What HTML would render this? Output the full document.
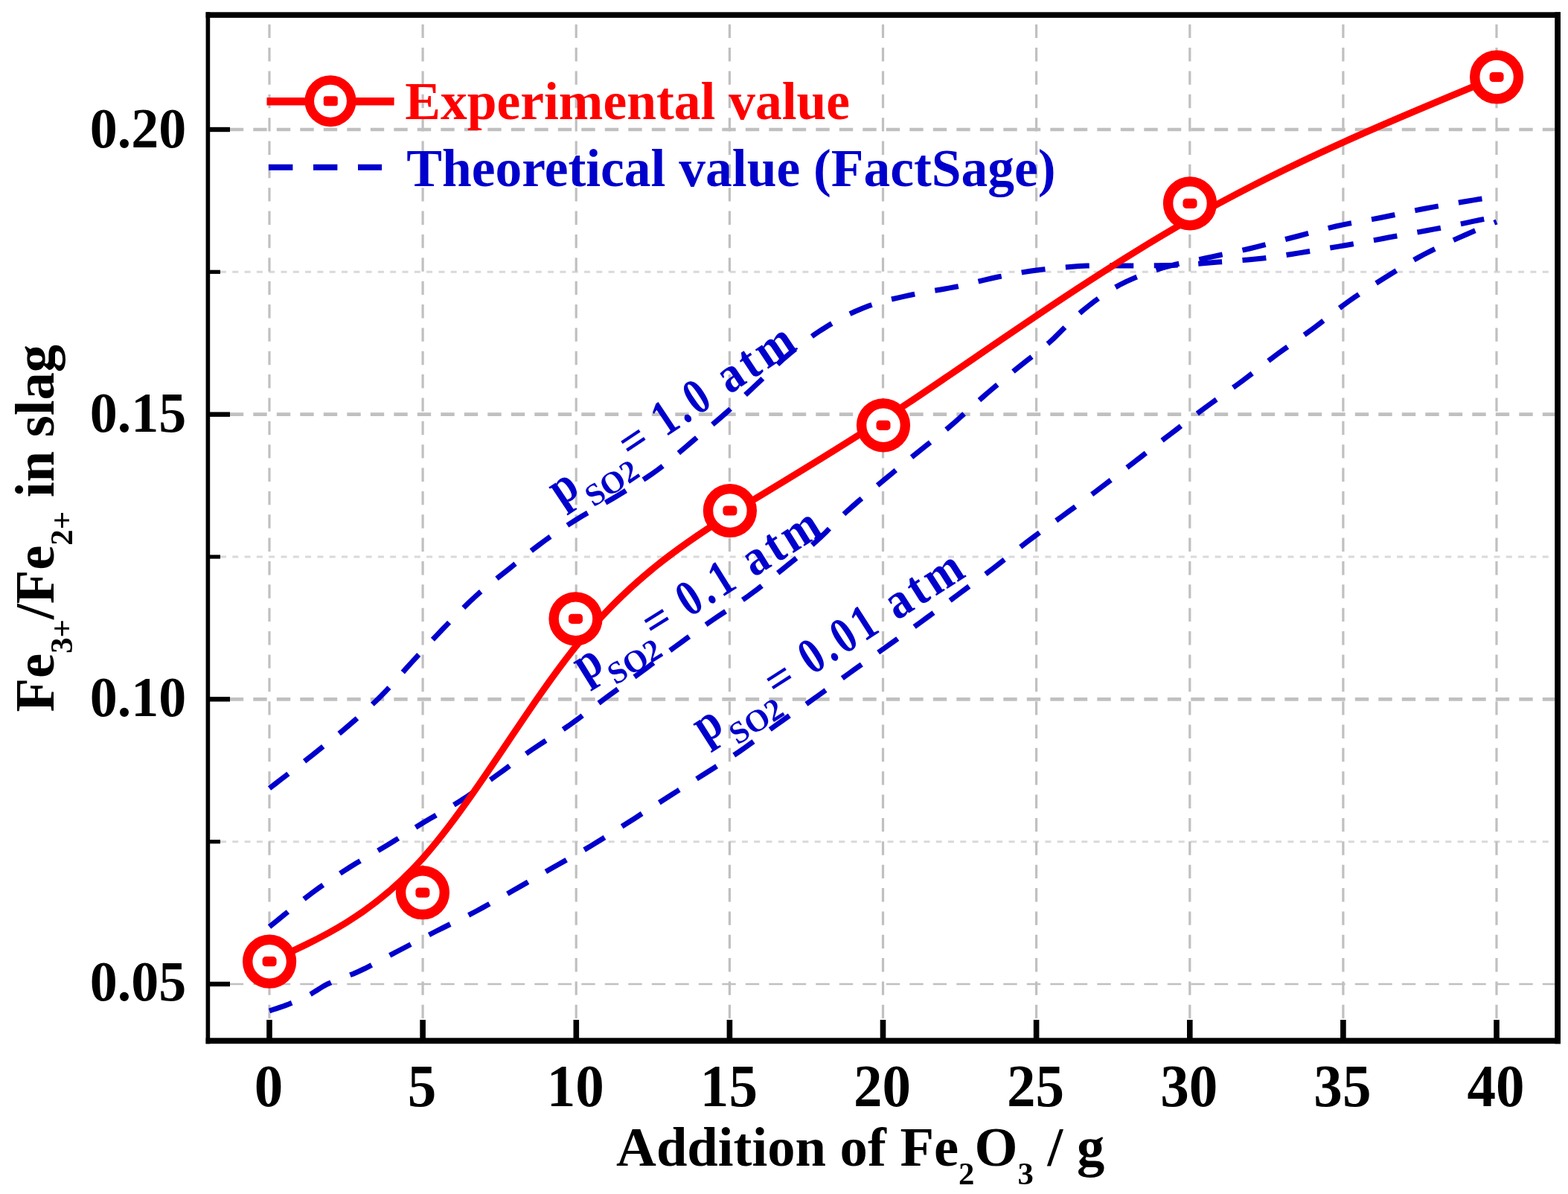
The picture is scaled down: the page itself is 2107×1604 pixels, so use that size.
<!DOCTYPE html>
<html><head><meta charset="utf-8"><title>Fe3+/Fe2+ in slag vs addition of Fe2O3</title>
<style>
html,body{margin:0;padding:0;background:#fff;overflow:hidden;}
svg{display:block;}
text{font-family:'Liberation Serif','Times New Roman',serif;font-weight:bold;}
</style></head><body>
<svg width="2107" height="1604" viewBox="0 0 2107 1604">
<rect x="0" y="0" width="2107" height="1604" fill="#fff"/>

<g id="grid" fill="none">
<line x1="296" y1="1130.7" x2="2089" y2="1130.7" stroke="#d9d9d9" stroke-width="3" stroke-dasharray="8 8.3"/>
<line x1="296" y1="748.0" x2="2089" y2="748.0" stroke="#d9d9d9" stroke-width="3" stroke-dasharray="8 8.3"/>
<line x1="296" y1="365.3" x2="2089" y2="365.3" stroke="#d9d9d9" stroke-width="3" stroke-dasharray="8 8.3"/>
<line x1="308.8" y1="1322.0" x2="2089" y2="1322.0" stroke="#c0c0c0" stroke-width="2.6" stroke-dasharray="18.4 13.1"/>
<line x1="308.8" y1="939.3" x2="2089" y2="939.3" stroke="#c0c0c0" stroke-width="4.7" stroke-dasharray="18.4 13.1"/>
<line x1="308.8" y1="556.7" x2="2089" y2="556.7" stroke="#c0c0c0" stroke-width="4.7" stroke-dasharray="18.4 13.1"/>
<line x1="308.8" y1="174.0" x2="2089" y2="174.0" stroke="#c0c0c0" stroke-width="4.7" stroke-dasharray="18.4 13.1"/>
<line x1="362.0" y1="32.7" x2="362.0" y2="1370" stroke="#c0c0c0" stroke-width="3.2" stroke-dasharray="18.4 12.96"/>
<line x1="568.1" y1="32.7" x2="568.1" y2="1370" stroke="#c0c0c0" stroke-width="3.2" stroke-dasharray="18.4 12.96"/>
<line x1="774.2" y1="32.7" x2="774.2" y2="1370" stroke="#c0c0c0" stroke-width="3.2" stroke-dasharray="18.4 12.96"/>
<line x1="980.4" y1="32.7" x2="980.4" y2="1370" stroke="#c0c0c0" stroke-width="3.2" stroke-dasharray="18.4 12.96"/>
<line x1="1186.5" y1="32.7" x2="1186.5" y2="1370" stroke="#c0c0c0" stroke-width="3.2" stroke-dasharray="18.4 12.96"/>
<line x1="1392.6" y1="32.7" x2="1392.6" y2="1370" stroke="#c0c0c0" stroke-width="3.2" stroke-dasharray="18.4 12.96"/>
<line x1="1598.8" y1="32.7" x2="1598.8" y2="1370" stroke="#c0c0c0" stroke-width="3.2" stroke-dasharray="18.4 12.96"/>
<line x1="1804.9" y1="32.7" x2="1804.9" y2="1370" stroke="#c0c0c0" stroke-width="3.2" stroke-dasharray="18.4 12.96"/>
<line x1="2011.0" y1="32.7" x2="2011.0" y2="1370" stroke="#c0c0c0" stroke-width="3.2" stroke-dasharray="18.4 12.96"/>
</g>
<g id="frame" fill="#000">
<rect x="276.6" y="16.3" width="5.6" height="1386"/>
<rect x="276.6" y="16.3" width="1820.4" height="7.6"/>
<rect x="2089.2" y="16.3" width="7.8" height="1386"/>
<rect x="276.6" y="1394.3" width="1820.4" height="7.8"/>
<rect x="282" y="1318.8" width="27" height="6.4"/>
<rect x="282" y="936.1" width="27" height="6.4"/>
<rect x="282" y="553.5" width="27" height="6.4"/>
<rect x="282" y="170.8" width="27" height="6.4"/>
<rect x="282" y="1128.1" width="14" height="5.2"/>
<rect x="282" y="745.4" width="14" height="5.2"/>
<rect x="282" y="362.7" width="14" height="5.2"/>
<rect x="358.2" y="1370" width="7.6" height="25"/>
<rect x="564.3" y="1370" width="7.6" height="25"/>
<rect x="770.5" y="1370" width="7.6" height="25"/>
<rect x="976.6" y="1370" width="7.6" height="25"/>
<rect x="1182.7" y="1370" width="7.6" height="25"/>
<rect x="1388.8" y="1370" width="7.6" height="25"/>
<rect x="1595.0" y="1370" width="7.6" height="25"/>
<rect x="1801.1" y="1370" width="7.6" height="25"/>
<rect x="2007.2" y="1370" width="7.6" height="25"/>
</g>
<g id="ylabels" font-size="75.5" text-anchor="end">
<text transform="translate(250.3,1343.8) scale(0.98,1)">0.05</text>
<text transform="translate(250.3,961.9) scale(0.98,1)">0.10</text>
<text transform="translate(250.3,579.7) scale(0.98,1)">0.15</text>
<text transform="translate(250.3,197.8) scale(0.98,1)">0.20</text>
</g>
<g id="xlabels" font-size="79.5" text-anchor="middle">
<text transform="translate(361.0,1486.0) scale(0.97,1)">0</text>
<text transform="translate(567.1,1486.0) scale(0.97,1)">5</text>
<text transform="translate(773.2,1486.0) scale(0.97,1)">10</text>
<text transform="translate(979.4,1486.0) scale(0.97,1)">15</text>
<text transform="translate(1185.5,1486.0) scale(0.97,1)">20</text>
<text transform="translate(1391.6,1486.0) scale(0.97,1)">25</text>
<text transform="translate(1597.8,1486.0) scale(0.97,1)">30</text>
<text transform="translate(1803.9,1486.0) scale(0.97,1)">35</text>
<text transform="translate(2010.0,1486.0) scale(0.97,1)">40</text>
</g>
<text id="xtitle" transform="translate(828.0,1565.5) scale(0.995,1)" font-size="75" letter-spacing="0">Addition of Fe<tspan font-size="43" dy="25">2</tspan><tspan dy="-25">O</tspan><tspan font-size="43" dy="25">3</tspan><tspan dy="-25"> / g</tspan></text>
<text id="ytitle" transform="translate(71.7,956.5) rotate(-90) scale(0.995,1)" x="0" y="0" font-size="75" letter-spacing="0">Fe<tspan font-size="43" dy="25">3+</tspan><tspan dy="-25">/Fe</tspan><tspan font-size="43" dy="25">2+</tspan><tspan dy="-25"> in slag</tspan></text>
<line x1="358.5" y1="136.2" x2="529.6" y2="136.2" stroke="#ff0000" stroke-width="10.5"/>
<circle cx="444" cy="135.7" r="28.2" fill="#fff" stroke="#ff0000" stroke-width="12.5"/>
<rect x="434.8" y="129.2" width="19" height="13" rx="3" fill="#ff0000"/>
<text id="leg1" transform="translate(544.3,159.9) scale(1.0,1)" font-size="71.5" fill="#ff0000">Experimental value</text>
<line x1="361" y1="224.7" x2="513.1" y2="224.7" stroke="#0000cc" stroke-width="8" stroke-dasharray="32.4 27.6"/>
<text id="leg2" transform="translate(546.3,250.0) scale(1.0,1)" font-size="71.5" fill="#0000cc">Theoretical value (FactSage)</text>
<g id="theory" fill="none" stroke="#0000cc" stroke-width="7.0" stroke-dasharray="32 27.5">
<path d="M362.0,1059.0 L370.0,1052.9 L377.9,1046.8 L385.8,1040.8 L393.7,1034.7 L401.8,1028.4 L410.0,1022.0 L419.3,1014.7 L428.9,1007.1 L438.7,999.3 L448.4,991.5 L457.9,983.7 L467.0,976.0 L475.1,969.0 L483.0,962.1 L490.7,955.2 L498.3,948.2 L505.7,941.2 L513.0,934.0 L519.9,926.8 L526.7,919.5 L533.3,912.2 L539.8,904.8 L546.3,897.4 L553.0,890.0 L559.8,882.6 L566.5,875.3 L573.3,867.9 L580.1,860.6 L587.0,853.3 L594.0,846.0 L601.2,838.6 L608.4,831.1 L615.7,823.6 L623.1,816.2 L630.5,809.0 L638.0,802.0 L645.3,795.5 L652.8,789.3 L660.2,783.2 L667.8,777.1 L675.4,771.1 L683.0,765.0 L690.9,758.6 L698.8,752.2 L706.7,745.7 L714.7,739.3 L722.8,733.1 L731.0,727.0 L739.2,721.2 L747.4,715.5 L755.7,710.0 L764.1,704.6 L772.5,699.3 L781.0,694.0 L789.6,688.9 L798.2,683.9 L807.0,679.0 L815.7,674.1 L824.4,669.1 L833.0,664.0 L841.6,658.7 L850.3,653.4 L858.9,648.0 L867.4,642.5 L875.8,636.8 L884.0,631.0 L891.8,625.1 L899.4,619.0 L906.8,612.8 L914.2,606.6 L921.6,600.3 L929.0,594.0 L936.5,587.7 L944.1,581.5 L951.6,575.2 L959.2,568.8 L966.6,562.5 L974.0,556.0 L981.3,549.5 L988.5,542.8 L995.6,536.1 L1002.7,529.4 L1009.9,522.7 L1017.0,516.0 L1024.1,509.3 L1031.1,502.5 L1038.1,495.8 L1045.2,489.1 L1052.5,482.5 L1060.0,476.0 L1068.2,469.3 L1076.6,462.7 L1085.3,456.1 L1094.1,449.7 L1103.0,443.7 L1112.0,438.0 L1120.9,432.8 L1129.9,427.8 L1139.0,423.1 L1148.2,418.8 L1157.6,414.7 L1167.0,411.0 L1176.4,407.8 L1186.0,405.0 L1195.7,402.5 L1205.4,400.3 L1215.2,398.1 L1225.0,396.0 L1235.1,393.9 L1245.3,392.1 L1255.6,390.4 L1265.8,388.7 L1276.0,386.9 L1286.0,385.0 L1295.4,382.9 L1304.6,380.7 L1313.8,378.4 L1322.9,376.1 L1331.9,374.0 L1341.0,372.0 L1349.6,370.3 L1358.1,368.6 L1366.6,367.1 L1375.2,365.6 L1383.9,364.3 L1393.0,363.0 L1403.8,361.7 L1415.0,360.4 L1426.5,359.3 L1438.1,358.4 L1449.7,357.6 L1461.0,357.0 L1471.8,356.7 L1482.5,356.6 L1493.2,356.7 L1503.9,356.9 L1514.5,357.0 L1525.0,357.0 L1535.2,356.9 L1545.3,356.9 L1555.4,356.8 L1565.4,356.6 L1575.3,356.4 L1585.0,356.0 L1593.8,355.5 L1602.5,354.9 L1611.0,354.2 L1619.5,353.5 L1628.2,352.7 L1637.0,352.0 L1646.8,351.3 L1656.7,350.5 L1666.7,349.8 L1676.9,349.0 L1687.0,348.1 L1697.0,347.0 L1707.0,345.7 L1717.0,344.3 L1727.0,342.8 L1737.0,341.2 L1747.0,339.6 L1757.0,338.0 L1767.0,336.4 L1777.0,334.8 L1787.0,333.1 L1797.0,331.4 L1807.0,329.7 L1817.0,328.0 L1827.0,326.2 L1837.0,324.4 L1847.0,322.6 L1857.0,320.7 L1867.0,318.8 L1877.0,317.0 L1887.0,315.2 L1897.0,313.4 L1907.0,311.6 L1917.0,309.7 L1927.0,307.9 L1937.0,306.0 L1947.3,304.0 L1958.2,301.8 L1969.0,299.6 L1979.2,297.4 L1988.4,295.5 L1996.0,294.0 L1999.1,293.4 L2001.7,292.8 L2004.1,292.4 L2006.4,291.9 L2008.6,291.5 L2011.0,291.0"/>
<path d="M362.0,1245.0 L371.7,1237.2 L381.4,1229.3 L391.2,1221.4 L400.9,1213.7 L410.5,1206.2 L420.0,1199.0 L428.4,1192.9 L436.8,1187.0 L445.0,1181.3 L453.3,1175.8 L461.6,1170.4 L470.0,1165.0 L478.4,1159.8 L487.0,1154.8 L495.5,1149.8 L504.1,1144.9 L512.6,1140.0 L521.0,1135.0 L529.1,1130.0 L537.1,1125.0 L545.0,1120.0 L552.9,1115.0 L560.9,1110.0 L569.0,1105.0 L577.4,1100.0 L586.0,1095.1 L594.6,1090.2 L603.1,1085.3 L611.6,1080.2 L620.0,1075.0 L628.2,1069.6 L636.2,1064.0 L644.2,1058.3 L652.2,1052.5 L660.1,1046.7 L668.0,1041.0 L675.9,1035.3 L683.6,1029.6 L691.4,1023.9 L699.2,1018.2 L707.1,1012.5 L715.0,1007.0 L723.1,1001.6 L731.3,996.3 L739.5,991.1 L747.7,985.8 L755.9,980.5 L764.0,975.0 L772.1,969.2 L780.1,963.2 L788.1,957.2 L796.0,951.1 L804.0,945.0 L812.0,939.0 L820.0,933.1 L828.0,927.3 L836.0,921.5 L844.0,915.7 L852.0,909.8 L860.0,904.0 L867.9,898.2 L875.7,892.3 L883.5,886.5 L891.3,880.6 L899.1,874.8 L907.0,869.0 L915.1,863.1 L923.2,857.2 L931.4,851.4 L939.6,845.5 L947.8,839.7 L956.0,834.0 L964.2,828.4 L972.4,823.0 L980.7,817.6 L988.9,812.1 L997.0,806.6 L1005.0,801.0 L1012.7,795.3 L1020.2,789.6 L1027.7,783.8 L1035.1,777.9 L1042.5,772.0 L1050.0,766.0 L1057.7,759.8 L1065.5,753.6 L1073.2,747.4 L1080.9,741.0 L1088.5,734.6 L1096.0,728.0 L1103.3,721.2 L1110.5,714.2 L1117.5,707.0 L1124.6,699.9 L1131.7,692.8 L1139.0,686.0 L1146.4,679.5 L1153.8,673.0 L1161.3,666.7 L1168.9,660.5 L1176.5,654.2 L1184.0,648.0 L1191.5,641.8 L1199.0,635.6 L1206.5,629.4 L1214.0,623.2 L1221.5,617.1 L1229.0,611.0 L1236.5,605.0 L1244.0,599.1 L1251.5,593.2 L1259.0,587.2 L1266.5,581.2 L1274.0,575.0 L1281.7,568.4 L1289.4,561.5 L1297.1,554.6 L1304.7,547.6 L1312.4,540.7 L1320.0,534.0 L1327.3,527.7 L1334.7,521.4 L1342.0,515.3 L1349.3,509.2 L1356.6,503.1 L1364.0,497.0 L1371.5,491.0 L1379.0,485.1 L1386.5,479.3 L1394.1,473.4 L1401.6,467.3 L1409.0,461.0 L1416.5,454.1 L1423.9,446.8 L1431.3,439.4 L1438.7,432.0 L1446.2,424.8 L1454.0,418.0 L1461.9,411.6 L1470.0,405.3 L1478.2,399.3 L1486.6,393.5 L1495.2,388.0 L1504.0,383.0 L1513.2,378.3 L1522.7,374.1 L1532.5,370.1 L1542.3,366.5 L1552.2,363.1 L1562.0,360.0 L1571.4,357.3 L1580.9,355.0 L1590.4,352.9 L1599.9,351.0 L1609.4,349.0 L1619.0,347.0 L1628.9,344.8 L1638.9,342.7 L1649.0,340.6 L1659.0,338.5 L1669.1,336.3 L1679.0,334.0 L1688.7,331.6 L1698.4,329.2 L1708.1,326.6 L1717.7,324.1 L1727.3,321.5 L1737.0,319.0 L1746.7,316.5 L1756.3,313.9 L1765.9,311.3 L1775.6,308.7 L1785.3,306.3 L1795.0,304.0 L1804.9,301.9 L1814.9,299.9 L1825.0,298.1 L1835.0,296.2 L1845.0,294.4 L1855.0,292.5 L1864.7,290.5 L1874.4,288.5 L1884.0,286.4 L1893.6,284.4 L1903.3,282.4 L1913.0,280.5 L1923.1,278.6 L1933.4,276.8 L1943.8,274.9 L1954.0,273.2 L1963.8,271.5 L1973.0,270.0 L1979.8,268.9 L1986.3,267.8 L1992.5,266.9 L1998.7,265.9 L2004.8,265.0 L2011.0,264.0"/>
<path d="M362.0,1358.0 L366.3,1356.5 L370.7,1355.1 L375.1,1353.6 L379.4,1352.2 L383.7,1350.6 L388.0,1349.0 L392.2,1347.3 L396.4,1345.6 L400.5,1343.9 L404.7,1342.0 L408.8,1340.1 L413.0,1338.0 L417.4,1335.6 L421.7,1332.9 L426.0,1330.2 L430.5,1327.4 L435.1,1324.6 L440.0,1322.0 L446.4,1319.1 L453.1,1316.4 L460.1,1313.7 L467.4,1311.0 L474.7,1308.2 L482.0,1305.0 L490.4,1301.0 L499.0,1296.6 L507.7,1292.0 L516.5,1287.3 L525.3,1282.6 L534.0,1278.0 L542.7,1273.5 L551.3,1269.0 L559.9,1264.5 L568.6,1260.0 L577.3,1255.5 L586.0,1251.0 L595.0,1246.5 L604.0,1242.0 L613.1,1237.6 L622.2,1233.1 L631.1,1228.6 L640.0,1224.0 L648.5,1219.4 L656.8,1214.8 L665.1,1210.2 L673.4,1205.5 L681.7,1200.8 L690.0,1196.0 L698.6,1191.1 L707.3,1186.1 L716.0,1181.0 L724.7,1176.0 L733.3,1171.0 L742.0,1166.0 L750.5,1161.2 L759.1,1156.4 L767.6,1151.6 L776.1,1146.8 L784.5,1142.0 L793.0,1137.0 L801.5,1131.8 L810.1,1126.5 L818.6,1121.2 L827.1,1115.8 L835.5,1110.4 L844.0,1105.0 L852.4,1099.7 L860.7,1094.3 L869.1,1089.0 L877.4,1083.6 L885.7,1078.3 L894.0,1073.0 L902.2,1067.8 L910.3,1062.6 L918.5,1057.5 L926.7,1052.4 L934.8,1047.2 L943.0,1042.0 L951.3,1036.7 L959.7,1031.5 L968.0,1026.2 L976.4,1020.9 L984.7,1015.5 L993.0,1010.0 L1001.4,1004.2 L1009.7,998.2 L1018.0,992.2 L1026.4,986.1 L1034.7,980.0 L1043.0,974.0 L1051.3,968.1 L1059.7,962.2 L1068.1,956.4 L1076.5,950.6 L1084.8,944.8 L1093.0,939.0 L1100.8,933.5 L1108.4,928.0 L1116.0,922.5 L1123.6,917.0 L1131.3,911.5 L1139.0,906.0 L1147.1,900.2 L1155.2,894.4 L1163.4,888.6 L1171.6,882.7 L1179.8,876.8 L1188.0,871.0 L1196.2,865.2 L1204.3,859.4 L1212.5,853.6 L1220.7,847.8 L1228.8,841.9 L1237.0,836.0 L1245.3,829.9 L1253.7,823.7 L1262.1,817.5 L1270.4,811.3 L1278.8,805.1 L1287.0,799.0 L1294.9,793.1 L1302.8,787.3 L1310.7,781.5 L1318.5,775.7 L1326.2,769.9 L1334.0,764.0 L1341.7,758.0 L1349.3,752.0 L1357.0,746.0 L1364.6,739.9 L1372.3,733.9 L1380.0,728.0 L1387.9,722.1 L1395.8,716.3 L1403.8,710.5 L1411.9,704.7 L1419.9,698.9 L1428.0,693.0 L1436.3,686.9 L1444.7,680.8 L1453.1,674.6 L1461.4,668.4 L1469.8,662.2 L1478.0,656.0 L1485.9,650.0 L1493.8,644.0 L1501.6,638.0 L1509.4,632.0 L1517.2,626.0 L1525.0,620.0 L1533.0,613.9 L1541.0,607.7 L1549.0,601.5 L1557.1,595.3 L1565.0,589.1 L1573.0,583.0 L1580.7,577.1 L1588.3,571.2 L1595.9,565.4 L1603.5,559.6 L1611.2,553.8 L1619.0,548.0 L1627.2,542.0 L1635.6,536.0 L1644.0,530.0 L1652.4,524.0 L1660.8,518.0 L1669.0,512.0 L1676.9,506.0 L1684.8,500.0 L1692.5,494.0 L1700.3,487.9 L1708.1,481.9 L1716.0,476.0 L1724.1,470.1 L1732.3,464.3 L1740.5,458.5 L1748.7,452.7 L1756.9,446.9 L1765.0,441.0 L1772.9,435.0 L1780.7,429.0 L1788.5,422.8 L1796.2,416.8 L1804.1,410.8 L1812.0,405.0 L1820.0,399.4 L1828.1,394.0 L1836.2,388.7 L1844.4,383.4 L1852.7,378.2 L1861.0,373.0 L1869.5,367.7 L1878.1,362.4 L1886.7,357.1 L1895.4,351.9 L1904.1,346.9 L1913.0,342.0 L1922.1,337.3 L1931.4,332.7 L1940.7,328.3 L1950.0,324.0 L1959.2,319.9 L1968.0,316.0 L1975.4,312.7 L1982.7,309.7 L1989.8,306.7 L1996.8,303.8 L2003.9,300.9 L2011.0,298.0"/>
</g>
<g transform="translate(754.0,681.0) rotate(-33.70)" fill="#0000cc"><text transform="translate(0,0) scale(0.88,1)" font-size="68">p</text><text x="36" y="25" font-size="42" font-weight="normal">SO2</text><text x="130.3" y="0" font-size="62" font-weight="bold" text-anchor="middle">=</text><text transform="translate(168.7,0) scale(0.8,1)" font-size="68" letter-spacing="6.37">1.0</text><text transform="translate(271.7,0) scale(0.9,1)" font-size="68" letter-spacing="5.56">atm</text></g>
<g transform="translate(786.1,917.0) rotate(-31.90)" fill="#0000cc"><text transform="translate(0,0) scale(0.88,1)" font-size="68">p</text><text x="33" y="25" font-size="42" font-weight="normal">SO2</text><text x="126.3" y="0" font-size="62" font-weight="bold" text-anchor="middle">=</text><text transform="translate(164.9,0) scale(0.8,1)" font-size="68" letter-spacing="6.37">0.1</text><text transform="translate(267,0) scale(0.9,1)" font-size="68" letter-spacing="5.56">atm</text></g>
<g transform="translate(947.5,999.6) rotate(-32.70)" fill="#0000cc"><text transform="translate(0,0) scale(0.88,1)" font-size="68">p</text><text x="36" y="25" font-size="42" font-weight="normal">SO2</text><text x="131.5" y="0" font-size="62" font-weight="bold" text-anchor="middle">=</text><text transform="translate(170.6,0) scale(0.8,1)" font-size="68" letter-spacing="6.37">0.01</text><text transform="translate(306.4,0) scale(0.9,1)" font-size="68" letter-spacing="5.56">atm</text></g>
<path id="exp" d="M362.1,1291.7 C430.7,1260.8 499.3,1230.0 567.9,1153.2 C636.4,1076.5 705.0,953.9 773.8,868.4 C842.6,782.9 911.8,734.4 980.7,691.1 C1049.6,647.8 1118.3,609.5 1221.3,540.8 C1324.3,472.0 1461.7,372.6 1599.0,294.7 C1736.4,216.7 1873.7,160.1 2011.1,103.5" fill="none" stroke="#ff0000" stroke-width="9.0" stroke-linejoin="round"/>
<g id="markers">
<circle cx="362.1" cy="1291.7" r="29.4" fill="#fff" stroke="#ff0000" stroke-width="13.4"/>
<rect x="352.6" y="1285.1" width="19" height="13.2" rx="4.5" fill="#ff0000"/>
<circle cx="567.9" cy="1199.1" r="29.4" fill="#fff" stroke="#ff0000" stroke-width="13.4"/>
<rect x="558.4" y="1192.5" width="19" height="13.2" rx="4.5" fill="#ff0000"/>
<circle cx="773.5" cy="831.3" r="29.4" fill="#fff" stroke="#ff0000" stroke-width="13.4"/>
<rect x="764.0" y="824.7" width="19" height="13.2" rx="4.5" fill="#ff0000"/>
<circle cx="980.9" cy="686.0" r="29.4" fill="#fff" stroke="#ff0000" stroke-width="13.4"/>
<rect x="971.4" y="679.4" width="19" height="13.2" rx="4.5" fill="#ff0000"/>
<circle cx="1187.0" cy="571.3" r="29.4" fill="#fff" stroke="#ff0000" stroke-width="13.4"/>
<rect x="1177.5" y="564.7" width="19" height="13.2" rx="4.5" fill="#ff0000"/>
<circle cx="1599.0" cy="273.3" r="29.4" fill="#fff" stroke="#ff0000" stroke-width="13.4"/>
<rect x="1589.5" y="266.7" width="19" height="13.2" rx="4.5" fill="#ff0000"/>
<circle cx="2011.1" cy="103.5" r="29.4" fill="#fff" stroke="#ff0000" stroke-width="13.4"/>
<rect x="2001.6" y="96.9" width="19" height="13.2" rx="4.5" fill="#ff0000"/>
</g>
</svg>
</body></html>
